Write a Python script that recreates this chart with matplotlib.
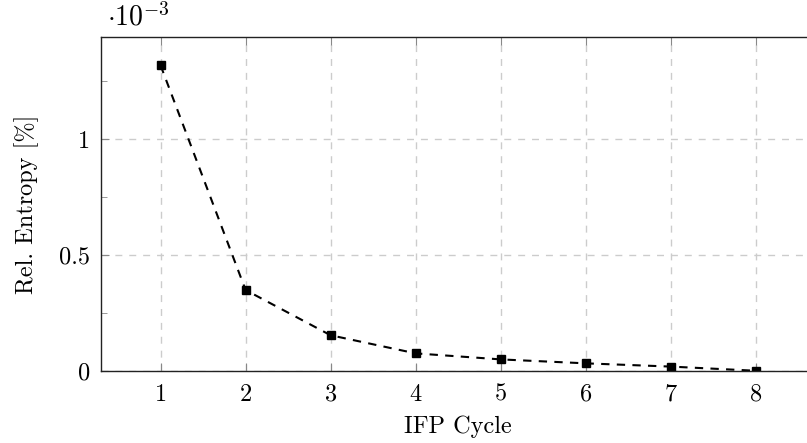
import matplotlib
matplotlib.use("Agg")
import matplotlib.pyplot as plt
from matplotlib.ticker import FuncFormatter, MultipleLocator

plt.rcParams['font.family'] = 'serif'
plt.rcParams['font.serif'] = ['cmr10', 'DejaVu Serif']
plt.rcParams['mathtext.fontset'] = 'cm'
plt.rcParams['axes.unicode_minus'] = False

cycles = [1, 2, 3, 4, 5, 6, 7, 8]
rel_entropy = [1.318e-3, 0.349e-3, 0.154e-3, 0.076e-3, 0.050e-3, 0.033e-3, 0.019e-3, 0.001e-3]
x_ticks = [1, 2, 3, 4, 5, 6, 7, 8]
y_ticks = [0, 0.5e-3, 1e-3]

W, H = 807, 443
fig = plt.figure(figsize=(W / 100, H / 100), dpi=100)
left = 101 / W
bottom = 1 - 371 / H
top = 1 - 37 / H
right = 815.5 / W
ax = fig.add_axes([left, bottom, right - left, top - bottom])

ax.plot(cycles, rel_entropy, linestyle=(0, (4, 3.5)), color='black', linewidth=1.5,
        marker='s', markersize=5.5, markerfacecolor='black', markeredgecolor='black')

ax.set_xlim(0.3, 8.7)
ax.set_ylim(0, 1.44e-3)
ax.set_xticks(x_ticks)
ax.set_yticks(y_ticks)
ax.yaxis.set_minor_locator(MultipleLocator(0.25e-3))
ax.yaxis.set_major_formatter(FuncFormatter(lambda v, p: '%g' % round(v / 1e-3, 3)))

ax.grid(True, which='major', color='#cccccc', linestyle=(0, (5, 5)), linewidth=1.0)
ax.set_axisbelow(True)
ax.tick_params(which='both', direction='in', color='#888888', labelsize=17.5,
               top=True, right=True)
ax.tick_params(axis='x', pad=9)
ax.tick_params(axis='y', pad=8)
ax.tick_params(which='major', length=6)
ax.tick_params(which='minor', length=4)
for s in ax.spines.values():
    s.set_linewidth(1.0)
    s.set_color('#222222')

ax.set_xlabel('IFP Cycle', fontsize=17.5, labelpad=7)
ax.set_ylabel('Rel. Entropy [%]', fontsize=17.5, labelpad=14)
fig.text(107 / W, 1 - 17 / H, r'$\cdot 10^{-3}$', fontsize=20, ha='left', va='center')

fig.savefig('out.png', dpi=100)
